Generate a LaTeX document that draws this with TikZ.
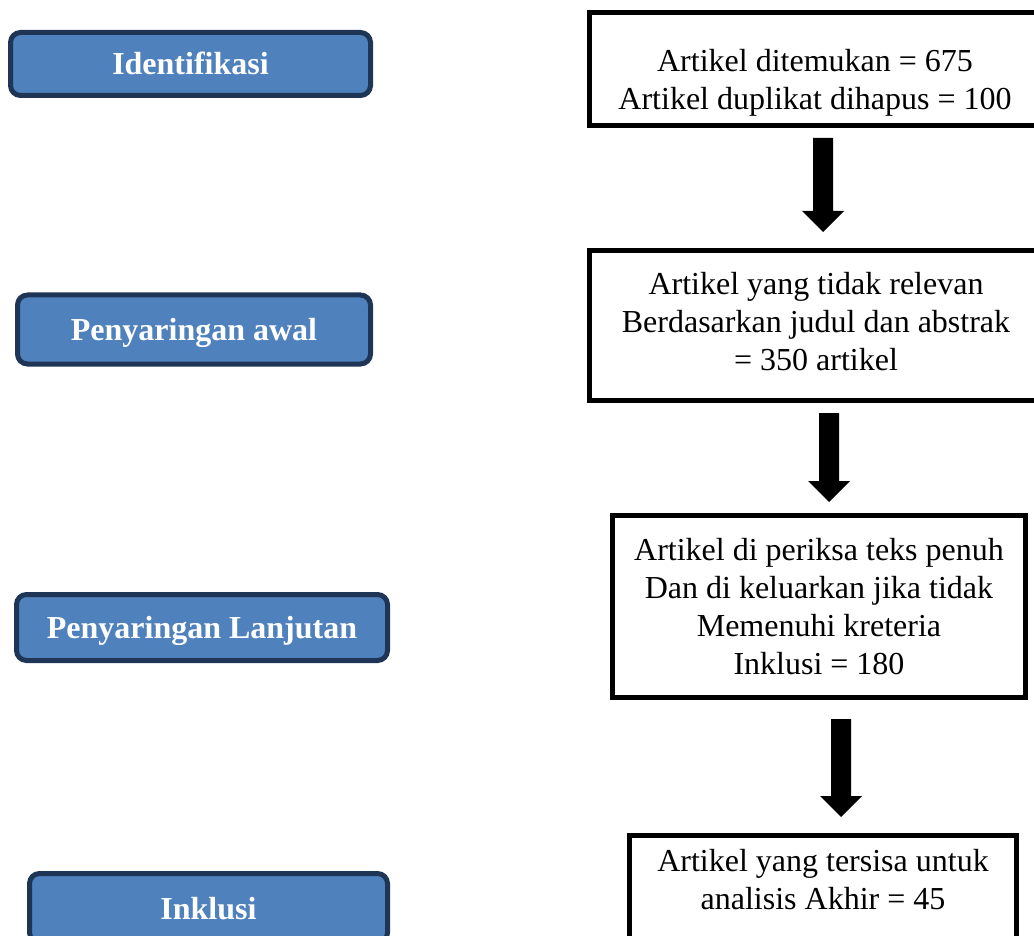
\documentclass[tikz,border=0pt]{standalone}
\usepackage{fontspec}
\setmainfont{Liberation Serif}
\usetikzlibrary{calc}
\definecolor{stagefill}{HTML}{4F81BD}
\definecolor{stageline}{HTML}{1F3556}
\tikzset{
  stage/.style={draw=stageline, fill=stagefill, line width=5pt, rounded corners=10pt,
    text=white, font=\fontsize{32}{38}\selectfont\bfseries, inner sep=0pt,
    text height=22pt, text depth=0pt},
  frame/.style={draw=black, fill=white, line width=5pt, inner sep=0pt},
  frametext/.style={align=center, font=\fontsize{32}{38}\selectfont, inner sep=0pt},
  arrowfill/.style={fill=black}
}
\newcommand{\myblockarrow}[2]{%
  \fill[arrowfill] ($(#1)+(-10,0)$) -- ($(#1)+(10,0)$) -- ($(#2)+(10,-21)$)
    -- ($(#2)+(21,-21)$) -- (#2) -- ($(#2)+(-21,-21)$) -- ($(#2)+(-10,-21)$) -- cycle;}
\begin{document}
\begin{tikzpicture}[x=1pt,y=-1pt]
\useasboundingbox (0,0) rectangle (1034,936);
\clip (0,0) rectangle (1034,936);

% left stage boxes
\node[stage, minimum width=360pt, minimum height=63pt] (L1) at (190.5,64) {Identifikasi};
\node[stage, minimum width=353pt, minimum height=69pt] (L2) at (194,329.5) {Penyaringan awal};
\node[stage, minimum width=371pt, minimum height=66pt] (L3) at (202,627.5) {Penyaringan Lanjutan};
\node[stage, minimum width=358pt, minimum height=69pt] (L4) at (208.5,908) {Inklusi};

% right boxes
\node[frame, minimum width=451pt, minimum height=113pt] (R1) at (815,69) {};
\node[frametext] (R1t) at (815,83) {Artikel ditemukan = 675\\Artikel duplikat dihapus = 100};

\node[frame, minimum width=453pt, minimum height=150pt] (R2) at (816,325.5) {};
\node[frametext] (R2t) at (816,322) {Artikel yang tidak relevan\\Berdasarkan judul dan abstrak\\= 350 artikel};

\node[frame, minimum width=413pt, minimum height=182pt] (R3) at (819,606.5) {};
\node[frametext] (R3t) at (819,607) {Artikel di periksa teks penuh\\Dan di keluarkan jika tidak\\Memenuhi kreteria\\Inklusi = 180};

\node[frame, minimum width=387pt, minimum height=130pt] (R4) at (823,900.5) {};
\node[frametext] (R4t) at (823,880) {Artikel yang tersisa untuk\\analisis Akhir = 45};

% block arrows
\coordinate (a1s) at (823,138); \coordinate (a1t) at (823,232);
\coordinate (a2s) at (829,413); \coordinate (a2t) at (829,502);
\coordinate (a3s) at (841,719); \coordinate (a3t) at (841,817);
\myblockarrow{a1s}{a1t}
\myblockarrow{a2s}{a2t}
\myblockarrow{a3s}{a3t}
\end{tikzpicture}
\end{document}
